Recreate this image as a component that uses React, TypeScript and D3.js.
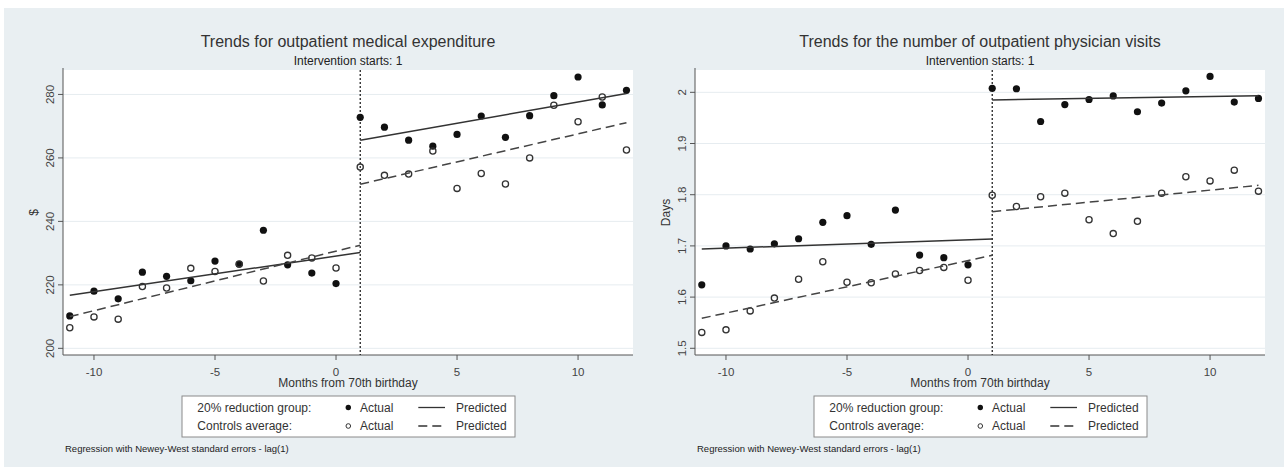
import React from "react";
import * as d3 from "d3";

// months from 70th birthday
const months = [-11, -10, -9, -8, -7, -6, -5, -4, -3, -2, -1, 0, 1, 2, 3, 4, 5, 6, 7, 8, 9, 10, 11, 12];
const xTicks = [-10, -5, 0, 5, 10];

// outpatient medical expenditure ($)
const expTreat = [210.2, 218.0, 215.6, 224.0, 222.7, 221.3, 227.5, 226.5, 237.2, 226.3, 223.7, 220.4, 272.8, 269.7, 265.6, 263.7, 267.4, 273.2, 266.5, 273.3, 279.6, 285.5, 276.7, 281.3];
const expControl = [206.5, 209.9, 209.2, 219.5, 219.0, 225.2, 224.2, 226.6, 221.2, 229.3, 228.5, 225.3, 257.1, 254.5, 254.9, 262.2, 250.4, 255.1, 251.8, 260.0, 276.6, 271.4, 279.2, 262.5];
// predicted: [x, y] endpoints of each regression segment
const expTreatPre = [[-11, 216.7], [1, 230.2]];
const expTreatPost = [[1, 265.6], [12, 280.3]];
const expControlPre = [[-11, 210.0], [1, 232.5]];
const expControlPost = [[1, 251.7], [12, 271.1]];
const expTicks = [200, 220, 240, 260, 280];

// number of outpatient physician visits (days)
const visTreat = [1.624, 1.700, 1.694, 1.704, 1.714, 1.746, 1.759, 1.703, 1.770, 1.682, 1.677, 1.663, 2.008, 2.007, 1.943, 1.976, 1.986, 1.993, 1.962, 1.979, 2.003, 2.031, 1.981, 1.988];
const visControl = [1.531, 1.536, 1.573, 1.598, 1.635, 1.669, 1.629, 1.628, 1.645, 1.652, 1.658, 1.633, 1.799, 1.777, 1.796, 1.803, 1.751, 1.724, 1.748, 1.803, 1.835, 1.827, 1.848, 1.807];
const visTreatPre = [[-11, 1.694], [1, 1.7135]];
const visTreatPost = [[1, 1.985], [12, 1.9934]];
const visControlPre = [[-11, 1.5586], [1, 1.6816]];
const visControlPost = [[1, 1.7668], [12, 1.8183]];
const visTicks = [1.5, 1.6, 1.7, 1.8, 1.9, 2];

const FONT = "'Liberation Sans', Arial, Helvetica, sans-serif";
const BG = "#e9eff2";

function Panel(props) {
  const { left, title, yLabel, yDomain, yTicks, treat, control, tPre, tPost, cPre, cPost } = props;
  const top = 70, bottom = 355, right = left + 570;
  const cx = (left + right) / 2;

  const x = d3.scaleLinear().domain([-11.28, 12.27]).range([left, right]);
  const y = d3.scaleLinear().domain(yDomain).range([bottom, top]);
  const line = d3.line().x(d => x(d[0])).y(d => y(d[1]));

  return (
    <g fontFamily={FONT}>
      <text x={cx} y={47} textAnchor="middle" fontSize={16} fill="#333">{title}</text>
      <text x={cx} y={64.5} textAnchor="middle" fontSize={12} fill="#222">Intervention starts: 1</text>

      <rect x={left} y={top} width={right - left} height={bottom - top} fill="#fff" />
      {yTicks.map(t => (
        <g key={t}>
          <line x1={left} x2={right} y1={y(t)} y2={y(t)} stroke="#e6ecf0" strokeWidth={1} />
          <line x1={left - 5} x2={left} y1={y(t)} y2={y(t)} stroke="#555" strokeWidth={1} />
          <text transform={`translate(${left - 9.5},${y(t)}) rotate(-90)`} textAnchor="middle"
            fontSize={11.5} fill="#444">{t}</text>
        </g>
      ))}
      <line x1={left} x2={left} y1={top - 2} y2={bottom} stroke="#555" strokeWidth={1} />
      <line x1={left} x2={right} y1={bottom} y2={bottom} stroke="#555" strokeWidth={1} />
      {xTicks.map(t => (
        <g key={t}>
          <line x1={x(t)} x2={x(t)} y1={bottom} y2={bottom + 5} stroke="#555" strokeWidth={1} />
          <text x={x(t)} y={376} textAnchor="middle" fontSize={11.5} fill="#444">{t}</text>
        </g>
      ))}
      <text transform={`translate(${left - 25.5},${(top + bottom) / 2}) rotate(-90)`} textAnchor="middle"
        fontSize={12} fill="#333">{yLabel}</text>
      <text x={cx} y={386.5} textAnchor="middle" fontSize={12} fill="#333">Months from 70th birthday</text>

      <line x1={x(1)} x2={x(1)} y1={top} y2={bottom} stroke="#111" strokeWidth={1.2} strokeDasharray="2,2" />

      {months.map((m, i) => (
        <circle key={"t" + m} cx={x(m)} cy={y(treat[i])} r={3.6} fill="#111" />
      ))}
      {months.map((m, i) => (
        <circle key={"c" + m} cx={x(m)} cy={y(control[i])} r={3.1} fill="none" stroke="#333" strokeWidth={1.3} />
      ))}

      <path d={line(tPre)} fill="none" stroke="#333" strokeWidth={1.5} />
      <path d={line(tPost)} fill="none" stroke="#333" strokeWidth={1.5} />
      <path d={line(cPre)} fill="none" stroke="#444" strokeWidth={1.5} strokeDasharray="9,5" />
      <path d={line(cPost)} fill="none" stroke="#444" strokeWidth={1.5} strokeDasharray="9,5" />

      <rect x={cx - 166} y={396} width={333} height={41} fill="#fff" stroke="#8a8a8a" strokeWidth={1} />
      <g fontSize={12} fill="#333">
        <text x={cx - 150.7} y={411.7}>20% reduction group:</text>
        <text x={cx - 150.7} y={430.3}>Controls average:</text>
        <circle cx={cx + 0.3} cy={407.5} r={2.7} fill="#111" />
        <circle cx={cx + 0.3} cy={426} r={2.3} fill="none" stroke="#333" strokeWidth={1} />
        <text x={cx + 12} y={411.7}>Actual</text>
        <text x={cx + 12} y={430.3}>Actual</text>
        <line x1={cx + 70.3} x2={cx + 97} y1={407.5} y2={407.5} stroke="#333" strokeWidth={1.3} />
        <line x1={cx + 70.3} x2={cx + 97} y1={426} y2={426} stroke="#333" strokeWidth={1.3} strokeDasharray="9,5" />
        <text x={cx + 108} y={411.7}>Predicted</text>
        <text x={cx + 108} y={430.3}>Predicted</text>
      </g>
      <text x={left + 2} y={451.5} fontSize={9.5} fill="#222">Regression with Newey-West standard errors - lag(1)</text>
    </g>
  );
}

export default function App() {
  return (
    <svg width={1288} height={470} style={{ position: "absolute", left: 0, top: 0, background: "#fff" }}>
      <rect x={4} y={8} width={1280} height={459} fill={BG} />
      <Panel left={63} title="Trends for outpatient medical expenditure" yLabel="$"
        yDomain={[197.9, 287.7]} yTicks={expTicks}
        treat={expTreat} control={expControl}
        tPre={expTreatPre} tPost={expTreatPost} cPre={expControlPre} cPost={expControlPost} />
      <Panel left={695} title="Trends for the number of outpatient physician visits" yLabel="Days"
        yDomain={[1.4869, 2.0436]} yTicks={visTicks}
        treat={visTreat} control={visControl}
        tPre={visTreatPre} tPost={visTreatPost} cPre={visControlPre} cPost={visControlPost} />
    </svg>
  );
}
